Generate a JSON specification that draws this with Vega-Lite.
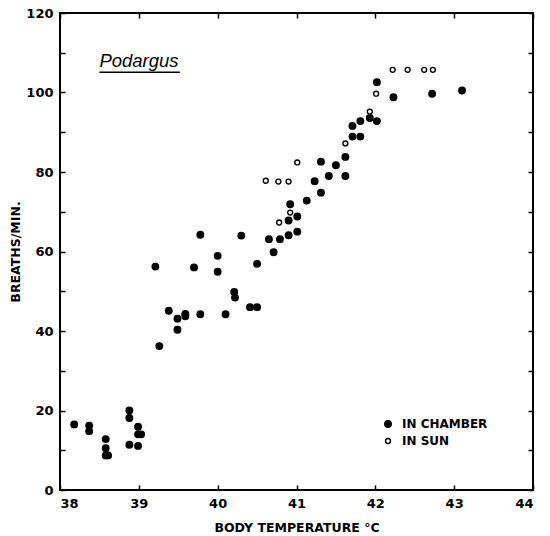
{
  "$schema": "https://vega.github.io/schema/vega-lite/v6.json",
  "width": 473,
  "height": 477,
  "autosize": "none",
  "padding": {"left": 60, "top": 13, "right": 17, "bottom": 46},
  "background": "white",
  "config": {
    "view": {"stroke": "black", "strokeWidth": 2},
    "axis": {"grid": false, "domain": false, "labelFont": "DejaVu Sans", "titleFont": "DejaVu Sans", "labelColor": "black", "titleColor": "black", "tickColor": "black", "tickWidth": 1.5, "tickSize": -5, "labelFontSize": 13, "titleFontSize": 12.5, "titleFontWeight": "bold", "labelFontWeight": "bold"}
  },
  "datasets": {
    "pts": [
      {"temp": 38.18, "breaths": 16.5, "cond": "IN CHAMBER"},
      {"temp": 38.37, "breaths": 16.2, "cond": "IN CHAMBER"},
      {"temp": 38.37, "breaths": 14.8, "cond": "IN CHAMBER"},
      {"temp": 38.58, "breaths": 12.8, "cond": "IN CHAMBER"},
      {"temp": 38.58, "breaths": 10.5, "cond": "IN CHAMBER"},
      {"temp": 38.58, "breaths": 8.7, "cond": "IN CHAMBER"},
      {"temp": 38.61, "breaths": 8.7, "cond": "IN CHAMBER"},
      {"temp": 38.88, "breaths": 20.0, "cond": "IN CHAMBER"},
      {"temp": 38.88, "breaths": 18.1, "cond": "IN CHAMBER"},
      {"temp": 38.88, "breaths": 11.4, "cond": "IN CHAMBER"},
      {"temp": 38.99, "breaths": 15.9, "cond": "IN CHAMBER"},
      {"temp": 38.99, "breaths": 14.0, "cond": "IN CHAMBER"},
      {"temp": 39.03, "breaths": 14.0, "cond": "IN CHAMBER"},
      {"temp": 38.99, "breaths": 11.1, "cond": "IN CHAMBER"},
      {"temp": 39.21, "breaths": 56.2, "cond": "IN CHAMBER"},
      {"temp": 39.26, "breaths": 36.2, "cond": "IN CHAMBER"},
      {"temp": 39.38, "breaths": 45.1, "cond": "IN CHAMBER"},
      {"temp": 39.49, "breaths": 43.1, "cond": "IN CHAMBER"},
      {"temp": 39.49, "breaths": 40.3, "cond": "IN CHAMBER"},
      {"temp": 39.59, "breaths": 44.3, "cond": "IN CHAMBER"},
      {"temp": 39.59, "breaths": 43.7, "cond": "IN CHAMBER"},
      {"temp": 39.70, "breaths": 56.0, "cond": "IN CHAMBER"},
      {"temp": 39.78, "breaths": 44.2, "cond": "IN CHAMBER"},
      {"temp": 40.00, "breaths": 58.9, "cond": "IN CHAMBER"},
      {"temp": 40.00, "breaths": 54.9, "cond": "IN CHAMBER"},
      {"temp": 40.10, "breaths": 44.2, "cond": "IN CHAMBER"},
      {"temp": 40.21, "breaths": 49.8, "cond": "IN CHAMBER"},
      {"temp": 40.22, "breaths": 48.4, "cond": "IN CHAMBER"},
      {"temp": 40.41, "breaths": 46.0, "cond": "IN CHAMBER"},
      {"temp": 40.50, "breaths": 46.0, "cond": "IN CHAMBER"},
      {"temp": 40.50, "breaths": 56.9, "cond": "IN CHAMBER"},
      {"temp": 40.71, "breaths": 59.8, "cond": "IN CHAMBER"},
      {"temp": 39.78, "breaths": 64.2, "cond": "IN CHAMBER"},
      {"temp": 40.30, "breaths": 64.0, "cond": "IN CHAMBER"},
      {"temp": 40.65, "breaths": 63.1, "cond": "IN CHAMBER"},
      {"temp": 40.79, "breaths": 63.1, "cond": "IN CHAMBER"},
      {"temp": 40.90, "breaths": 64.1, "cond": "IN CHAMBER"},
      {"temp": 41.01, "breaths": 65.0, "cond": "IN CHAMBER"},
      {"temp": 41.01, "breaths": 68.8, "cond": "IN CHAMBER"},
      {"temp": 40.90, "breaths": 67.8, "cond": "IN CHAMBER"},
      {"temp": 40.92, "breaths": 71.9, "cond": "IN CHAMBER"},
      {"temp": 41.13, "breaths": 72.8, "cond": "IN CHAMBER"},
      {"temp": 41.23, "breaths": 77.7, "cond": "IN CHAMBER"},
      {"temp": 41.31, "breaths": 74.8, "cond": "IN CHAMBER"},
      {"temp": 41.31, "breaths": 82.6, "cond": "IN CHAMBER"},
      {"temp": 41.41, "breaths": 79.0, "cond": "IN CHAMBER"},
      {"temp": 41.50, "breaths": 81.7, "cond": "IN CHAMBER"},
      {"temp": 41.62, "breaths": 79.0, "cond": "IN CHAMBER"},
      {"temp": 41.62, "breaths": 83.8, "cond": "IN CHAMBER"},
      {"temp": 41.71, "breaths": 88.9, "cond": "IN CHAMBER"},
      {"temp": 41.81, "breaths": 88.9, "cond": "IN CHAMBER"},
      {"temp": 41.71, "breaths": 91.6, "cond": "IN CHAMBER"},
      {"temp": 41.81, "breaths": 92.8, "cond": "IN CHAMBER"},
      {"temp": 41.93, "breaths": 93.6, "cond": "IN CHAMBER"},
      {"temp": 42.02, "breaths": 92.8, "cond": "IN CHAMBER"},
      {"temp": 42.02, "breaths": 102.6, "cond": "IN CHAMBER"},
      {"temp": 42.23, "breaths": 98.8, "cond": "IN CHAMBER"},
      {"temp": 42.72, "breaths": 99.7, "cond": "IN CHAMBER"},
      {"temp": 43.10, "breaths": 100.5, "cond": "IN CHAMBER"},
      {"temp": 40.92, "breaths": 69.8, "cond": "IN SUN"},
      {"temp": 40.78, "breaths": 67.3, "cond": "IN SUN"},
      {"temp": 40.61, "breaths": 77.8, "cond": "IN SUN"},
      {"temp": 40.77, "breaths": 77.6, "cond": "IN SUN"},
      {"temp": 40.90, "breaths": 77.6, "cond": "IN SUN"},
      {"temp": 41.01, "breaths": 82.4, "cond": "IN SUN"},
      {"temp": 41.62, "breaths": 87.2, "cond": "IN SUN"},
      {"temp": 41.93, "breaths": 95.2, "cond": "IN SUN"},
      {"temp": 42.01, "breaths": 99.7, "cond": "IN SUN"},
      {"temp": 42.22, "breaths": 105.7, "cond": "IN SUN"},
      {"temp": 42.41, "breaths": 105.7, "cond": "IN SUN"},
      {"temp": 42.62, "breaths": 105.7, "cond": "IN SUN"},
      {"temp": 42.73, "breaths": 105.7, "cond": "IN SUN"}
    ],
    "label": [
      {"temp": 38.5, "temp2": 39.52, "breaths": 106.4, "uline": 105.1, "name": "Podargus"}
    ]
  },
  "layer": [
    {
      "data": {"name": "pts"},
      "mark": {"type": "point", "filled": true, "stroke": "black", "strokeWidth": 1.4, "opacity": 1},
      "encoding": {
        "x": {"field": "temp", "type": "quantitative", "scale": {"domain": [38, 44], "nice": false, "zero": false},
          "axis": {"orient": "bottom", "values": [38, 39, 40, 41, 42, 43, 44], "title": "BODY TEMPERATURE °C", "labelPadding": 12, "titlePadding": 11}},
        "y": {"field": "breaths", "type": "quantitative", "scale": {"domain": [0, 120], "nice": false},
          "axis": {"orient": "left", "values": [0, 10, 20, 30, 40, 50, 60, 70, 80, 90, 100, 110, 120], "labelExpr": "datum.value % 20 == 0 ? datum.label : ''", "title": "BREATHS/MIN.", "labelPadding": 12, "titlePadding": 3}},
        "fill": {"field": "cond", "type": "nominal", "scale": {"domain": ["IN CHAMBER", "IN SUN"], "range": ["black", "white"]},
          "legend": {"title": null, "orient": "none", "legendX": 322, "legendY": 405, "symbolType": "circle", "symbolStrokeColor": "black", "symbolStrokeWidth": 1.4, "labelFont": "DejaVu Sans", "labelFontWeight": "bold", "labelFontSize": 12, "labelColor": "black", "rowPadding": 4, "labelOffset": 8}},
        "size": {"field": "cond", "type": "nominal", "scale": {"domain": ["IN CHAMBER", "IN SUN"], "range": [42, 24]}}
      }
    },
    {
      "data": {"name": "label"},
      "mark": {"type": "text", "align": "left", "baseline": "alphabetic", "font": "Liberation Sans", "fontStyle": "italic", "fontSize": 18.5, "color": "black"},
      "encoding": {
        "x": {"field": "temp", "type": "quantitative", "axis": {"orient": "top", "values": [38, 39, 40, 41, 42, 43, 44], "labels": false, "title": null}},
        "y": {"field": "breaths", "type": "quantitative", "axis": {"orient": "right", "values": [0, 10, 20, 30, 40, 50, 60, 70, 80, 90, 100, 110, 120], "labels": false, "title": null}},
        "text": {"field": "name"}
      }
    },
    {
      "data": {"name": "label"},
      "mark": {"type": "rule", "color": "black", "strokeWidth": 1.5},
      "encoding": {
        "x": {"field": "temp", "type": "quantitative", "axis": null},
        "x2": {"field": "temp2"},
        "y": {"field": "uline", "type": "quantitative", "axis": null}
      }
    }
  ],
  "resolve": {"axis": {"x": "independent", "y": "independent"}}
}
